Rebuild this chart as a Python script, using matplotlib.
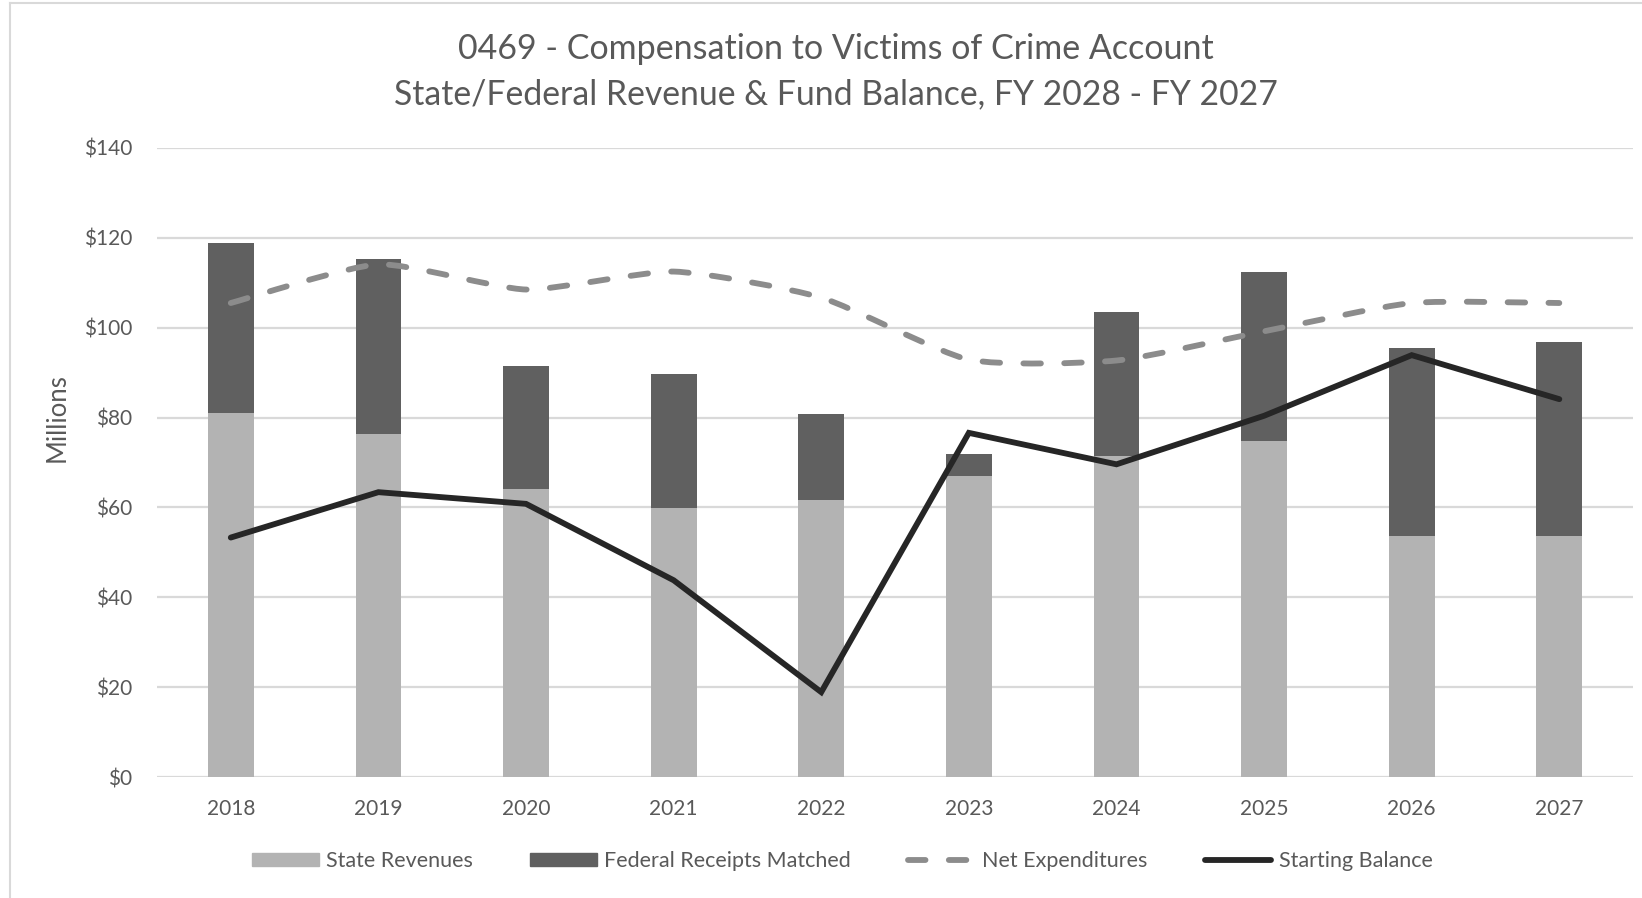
import numpy as np
import matplotlib.pyplot as plt
from matplotlib.path import Path
from matplotlib.patches import PathPatch, Patch
from matplotlib.lines import Line2D

plt.rcParams["font.family"] = ["Lato", "DejaVu Sans"]

# data (millions)
years = ["2018", "2019", "2020", "2021", "2022", "2023", "2024", "2025", "2026", "2027"]
state_revenues = [81.0, 76.4, 64.1, 59.9, 61.7, 66.9, 71.5, 74.8, 53.6, 53.6]
federal_receipts = [37.8, 38.9, 27.4, 29.8, 19.1, 5.1, 31.9, 37.7, 41.9, 43.3]
net_expenditures = [105.5, 114.1, 108.5, 112.5, 106.7, 92.9, 92.7, 99.2, 105.5, 105.5]
starting_balance = [53.3, 63.4, 60.8, 43.8, 18.9, 76.6, 69.6, 80.4, 93.9, 84.1]
y_ticks = [0, 20, 40, 60, 80, 100, 120, 140]

TEXT = "#595959"
C_STATE = "#b3b3b3"
C_FED = "#606060"
C_NET = "#8c8c8c"
C_BAL = "#262626"
GRID = "#d9d9d9"
DASH = (0, (3.0, 4.0))


def smooth_path(xs, ys, k=0.1):
    # smoothed line like Excel: cubic bezier segments through the points
    pts = np.column_stack([xs, ys]).astype(float)
    n = len(pts)
    verts = [pts[0]]
    codes = [Path.MOVETO]
    for i in range(n - 1):
        p0 = pts[i - 1] if i > 0 else pts[i]
        p1 = pts[i]
        p2 = pts[i + 1]
        p3 = pts[i + 2] if i + 2 < n else pts[i + 1]
        c1 = p1 + (p2 - p0) * k
        c2 = p2 - (p3 - p1) * k
        verts += [c1, c2, p2]
        codes += [Path.CURVE4] * 3
    return Path(verts, codes)


fig = plt.figure(figsize=(16.42, 8.98), dpi=100)
ax = fig.add_axes([0.0956, 0.1347, 0.899, 0.7005])

x = np.arange(len(years))
ax.bar(x, state_revenues, width=0.31, color=C_STATE, zorder=2)
ax.bar(x, federal_receipts, width=0.31, bottom=state_revenues, color=C_FED, zorder=2)

net_patch = PathPatch(smooth_path(x, net_expenditures), fill=False, edgecolor=C_NET,
                      linewidth=4.2, linestyle=DASH, capstyle="round", zorder=3)
ax.add_patch(net_patch)
ax.plot(x, starting_balance, color=C_BAL, linewidth=4.2, solid_capstyle="round",
        solid_joinstyle="miter", zorder=4)

ax.set_xlim(-0.5, len(years) - 0.5)
ax.set_ylim(0, 140)
ax.set_yticks(y_ticks)
ax.set_yticklabels([f"${v}" for v in y_ticks])
ax.set_xticks(x)
ax.set_xticklabels(years)
ax.tick_params(length=0, labelsize=15, colors=TEXT)
ax.tick_params(axis="y", pad=18)
ax.tick_params(axis="x", pad=16)
ax.grid(axis="y", color=GRID, linewidth=1.6, zorder=0)
ax.set_axisbelow(True)
for s in ax.spines.values():
    s.set_visible(False)
ax.set_ylabel("Millions", fontsize=18.5, color=TEXT)
ax.yaxis.set_label_coords(-0.059, 0.572)

fig.text(0.509, 0.945, "0469 - Compensation to Victims of Crime Account",
         ha="center", va="center", fontsize=24.5, color=TEXT)
fig.text(0.509, 0.895, "State/Federal Revenue & Fund Balance, FY 2028 - FY 2027",
         ha="center", va="center", fontsize=24.3, color=TEXT)

handles = [
    Patch(color=C_STATE, label="State Revenues"),
    Patch(color=C_FED, label="Federal Receipts Matched"),
    Line2D([], [], color=C_NET, linewidth=4.2, linestyle=DASH,
           dash_capstyle="round", label="Net Expenditures"),
    Line2D([], [], color=C_BAL, linewidth=4.2, solid_capstyle="round",
           label="Starting Balance"),
]
fig.legend(handles=handles, loc="center", bbox_to_anchor=(0.513, 0.041), ncol=4,
           frameon=False, fontsize=15.5, labelcolor=TEXT, handlelength=3.1,
           handleheight=0.6, handletextpad=0.35, columnspacing=2.65)

# light frame along the top and left edge
fig.add_artist(Line2D([0.006, 1.0], [0.9966, 0.9966], color=GRID, linewidth=1.5))
fig.add_artist(Line2D([0.006, 0.006], [0.0, 0.9966], color=GRID, linewidth=1.5))

fig.savefig("out.png", dpi=100)
